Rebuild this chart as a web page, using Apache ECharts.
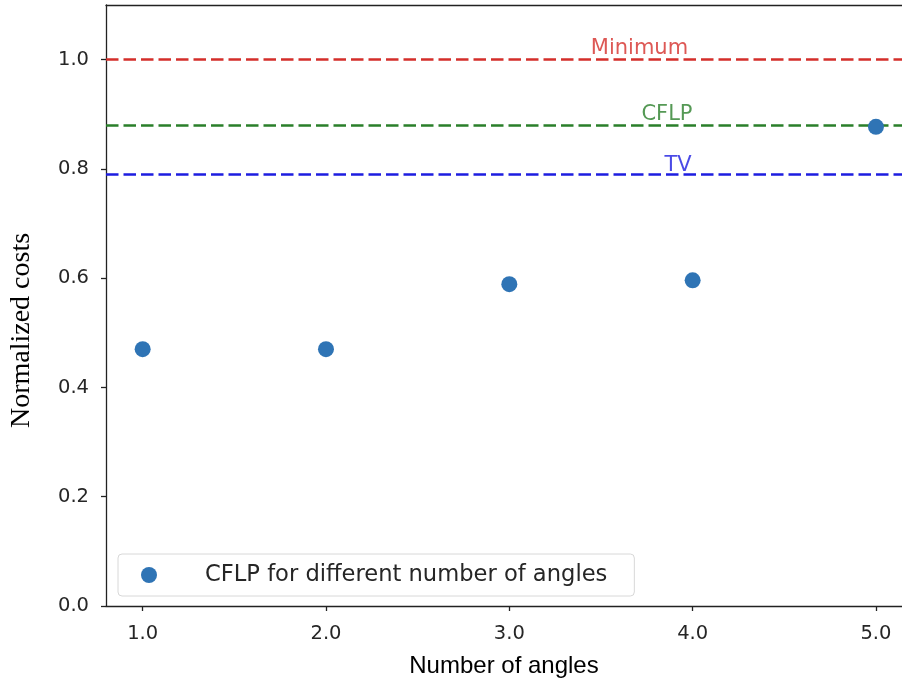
<!DOCTYPE html>
<html>
<head>
<meta charset="utf-8">
<script src="https://cdn.jsdelivr.net/npm/echarts@6/dist/echarts.min.js"></script>
<style>html,body{margin:0;padding:0;background:#fff}#c{width:902px;height:681px}</style>
</head>
<body>
<div id="c"></div>
<script>
const angles = [1, 2, 3, 4, 5];
const costs = [0.470, 0.470, 0.589, 0.596, 0.877];
const refNames = ['Minimum', 'CFLP', 'TV'];
const refValues = [1.0, 0.879, 0.786];
const refLabelX = [3.71, 3.86, 3.92];
const refColors = ['#d42e2a', '#2a7f2a', '#1d1de0'];
const xTicks = [1, 2, 3, 4, 5];
const yTicks = [0, 0.2, 0.4, 0.6, 0.8, 1.0];
const seriesName = 'CFLP for different number of angles';

const chart = echarts.init(document.getElementById('c'), null, {renderer: 'canvas'});
const tickFont = {fontFamily: 'DejaVu Sans', fontSize: 19.5, color: '#262626'};
const spine = {color: '#222', width: 1.3};

const series = [{
  name: seriesName,
  type: 'scatter',
  data: angles.map((a, i) => [a, costs[i]]),
  symbolSize: 16,
  itemStyle: {color: '#2f74b5', opacity: 1},
  z: 5
}];
refNames.forEach((n, i) => {
  series.push({
    name: n + '_line',
    type: 'line',
    data: [],
    markLine: {
      silent: true,
      symbol: 'none',
      label: {show: false},
      lineStyle: {color: refColors[i], type: [12.5, 5], width: 2.7},
      data: [{yAxis: refValues[i]}]
    },
    z: 3
  });
  series.push({
    name: n + '_label',
    type: 'scatter',
    data: [[refLabelX[i], refValues[i]]],
    symbolSize: 0,
    silent: true,
    label: {
      show: true, position: 'top', distance: 1,
      formatter: n,
      fontFamily: 'DejaVu Sans', fontSize: 21, color: refColors[i]
    },
    z: 4
  });
});

chart.setOption({
  animation: false,
  backgroundColor: '#fff',
  grid: {left: 106, top: 5, right: 0, bottom: 75, show: false, containLabel: false, outerBoundsMode: 'none'},
  legend: {
    data: [seriesName],
    left: 118, top: 554,
    orient: 'horizontal',
    icon: 'circle',
    itemWidth: 16, itemHeight: 16,
    padding: [8, 27, 8, 23],
    borderColor: '#d8d8d8', borderWidth: 1, borderRadius: 4,
    backgroundColor: '#fff',
    textStyle: {fontFamily: 'DejaVu Sans', fontSize: 22.6, lineHeight: 26, color: '#262626', padding: [0, 0, 0, 43]}
  },
  xAxis: [{
    type: 'value', min: 0.8, max: 5.142,
    name: 'Number of angles', nameLocation: 'middle', nameGap: 48,
    nameTextStyle: {fontFamily: 'Liberation Sans', fontSize: 24, color: '#000'},
    axisLine: {show: true, onZero: false, lineStyle: spine},
    axisTick: {show: true, length: 5, inside: false, customValues: xTicks, lineStyle: spine},
    axisLabel: Object.assign({customValues: xTicks, margin: 18, formatter: v => v.toFixed(1)}, tickFont),
    splitLine: {show: false}
  }, {
    type: 'value', min: 0.8, max: 5.142, position: 'top',
    axisLine: {show: true, onZero: false, lineStyle: spine},
    axisTick: {show: false}, axisLabel: {show: false}, splitLine: {show: false}
  }],
  yAxis: {
    type: 'value', min: 0, max: 1.1,
    name: 'Normalized costs', nameLocation: 'middle', nameGap: 70, nameRotate: 90,
    nameTextStyle: {fontFamily: 'Liberation Serif', fontSize: 28, color: '#000', padding: [0, 50, 0, 0]},
    axisLine: {show: true, onZero: false, lineStyle: spine},
    axisTick: {show: true, length: 5, inside: false, customValues: yTicks, lineStyle: spine},
    axisLabel: Object.assign({customValues: yTicks, margin: 17, formatter: v => v.toFixed(1)}, tickFont),
    splitLine: {show: false}
  },
  series: series
});
</script>
</body>
</html>
